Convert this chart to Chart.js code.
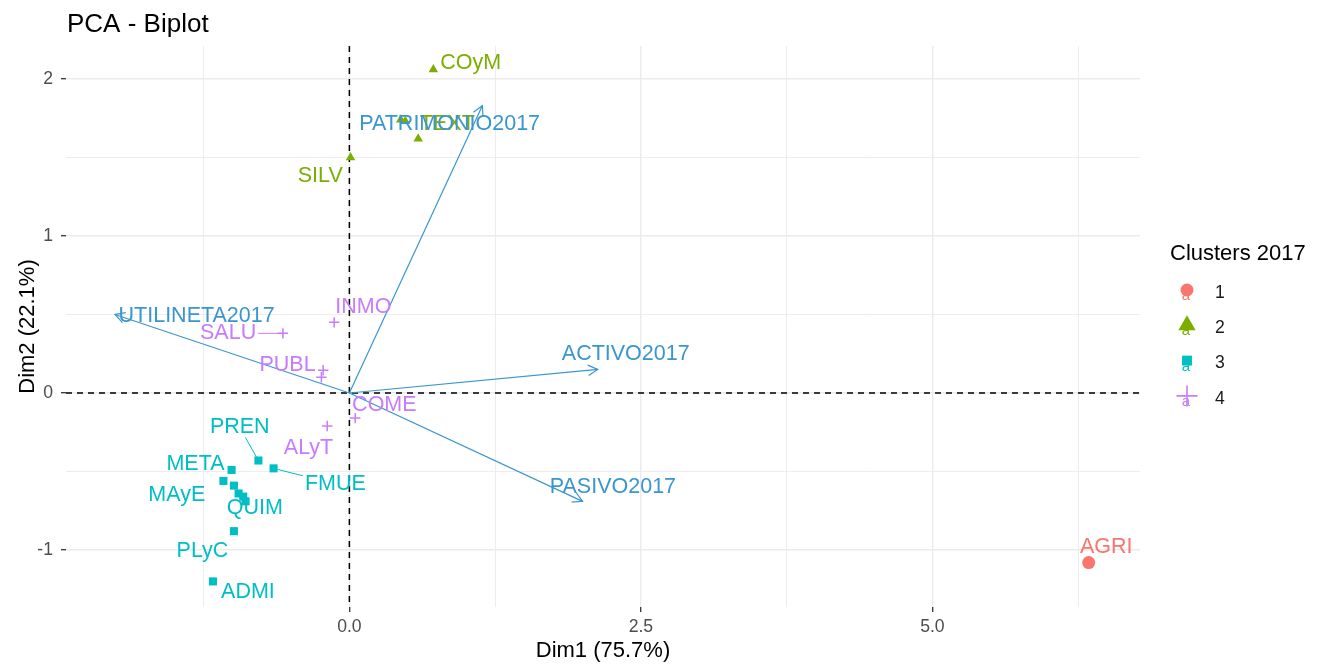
<!DOCTYPE html>
<html><head><meta charset="utf-8">
<script src="https://cdn.jsdelivr.net/npm/chart.js@4.4.1/dist/chart.umd.min.js"></script>
<style>html,body{margin:0;padding:0;background:#fff;}</style>
</head><body>
<canvas id="c" width="1318" height="665"></canvas>
<script>
const FONT = "'Liberation Sans', Arial, Helvetica, sans-serif";

// ---- clusters ----
const clusterNames = ['1','2','3','4'];
const clusterColors = ['#F8766D','#7CAE00','#00BFC4','#C77CFF'];
const clusterStyles = ['circle','triangle','rect','cross'];

// cluster 1
const c1Labels = ['AGRI'];
const c1X = [6.34];
const c1Y = [-1.08];
const c1LabelX = [6.49];
const c1LabelY = [-0.98];

// cluster 2
const c2Labels = ['COyM','','','TEXT','SILV'];
const c2X = [0.72, 0.44, 0.48, 0.59, 0.01];
const c2Y = [2.06, 1.74, 1.73, 1.62, 1.50];
const c2LabelX = [1.04, null, null, 0.84, -0.25];
const c2LabelY = [2.10, null, null, 1.71, 1.38];

// cluster 3
const c3Labels = ['PREN','FMUE','META','MAyE','','QUIM','','','PLyC','ADMI'];
const c3X = [-0.78, -0.65, -1.01, -1.08, -0.99, -0.95, -0.91, -0.89, -0.99, -1.17];
const c3Y = [-0.43, -0.48, -0.49, -0.56, -0.59, -0.64, -0.66, -0.69, -0.88, -1.20];
const c3LabelX = [-0.94, -0.12, -1.32, -1.48, null, -0.81, null, null, -1.26, -0.87];
const c3LabelY = [-0.22, -0.58, -0.45, -0.65, null, -0.73, null, null, -1.01, -1.27];

// cluster 4
const c4Labels = ['INMO','SALU','PUBL','','COME','ALyT'];
const c4X = [-0.13, -0.57, -0.225, -0.24, 0.05, -0.19];
const c4Y = [0.45, 0.38, 0.145, 0.10, -0.16, -0.21];
const c4LabelX = [0.12, -1.04, -0.53, null, 0.30, -0.35];
const c4LabelY = [0.55, 0.38, 0.18, null, -0.08, -0.35];

const segmentLabels = ['SALU','PREN','FMUE'];

// ---- variables (arrows) ----
const varNames = ['PATRIMONIO2017','UTILINETA2017','ACTIVO2017','PASIVO2017'];
const varX = [1.14, -2.01, 2.13, 2.00];
const varY = [1.83, 0.50, 0.15, -0.69];
const varLabelX = [0.86, -1.31, 2.37, 2.26];
const varLabelY = [1.71, 0.49, 0.25, -0.60];
const varColor = '#3A96CF';

// ---- axes ----
const xGrid = [-1.25, 0, 1.25, 2.5, 3.75, 5, 6.25];
const xTickValues = [0, 2.5, 5];
const xTickLabels = ['0.0', '2.5', '5.0'];
const yGrid = [-1, -0.5, 0, 0.5, 1, 1.5, 2];
const yTickValues = [-1, 0, 1, 2];
const yTickLabels = ['-1', '0', '1', '2'];
const xLimits = [-2.43, 6.78];
const yLimits = [-1.363, 2.21];

const chartTitle = 'PCA - Biplot';
const xTitle = 'Dim1 (75.7%)';
const yTitle = 'Dim2 (22.1%)';
const legendTitle = 'Clusters 2017';

const clusters = [
  {labels:c1Labels, x:c1X, y:c1Y, lx:c1LabelX, ly:c1LabelY},
  {labels:c2Labels, x:c2X, y:c2Y, lx:c2LabelX, ly:c2LabelY},
  {labels:c3Labels, x:c3X, y:c3Y, lx:c3LabelX, ly:c3LabelY},
  {labels:c4Labels, x:c4X, y:c4Y, lx:c4LabelX, ly:c4LabelY}
];
const pointRadii = [6.5, 5.5, 5.7, 5.2];

const datasets = [];
varNames.forEach((n, i) => {
  datasets.push({
    type: 'line', label: n, showLine: true, fill: false,
    data: [{x: 0, y: 0}, {x: varX[i], y: varY[i]}],
    borderColor: varColor, borderWidth: 1.2, pointRadius: 0
  });
});
clusters.forEach((c, k) => {
  datasets.push({
    type: 'scatter', label: clusterNames[k],
    data: c.x.map((v, i) => ({x: v, y: c.y[i]})),
    pointStyle: clusterStyles[k],
    pointRadius: pointRadii[k],
    backgroundColor: clusterColors[k],
    borderColor: clusterColors[k],
    borderWidth: k === 3 ? 1.5 : 0,
    pointBorderWidth: k === 3 ? 1.5 : 0
  });
});

function drawSymbol(ctx, style, x, y, r, color) {
  ctx.save();
  ctx.fillStyle = color; ctx.strokeStyle = color;
  ctx.beginPath();
  if (style === 'circle') { ctx.arc(x, y, r, 0, Math.PI * 2); ctx.fill(); }
  else if (style === 'triangle') {
    for (let j = 0; j < 3; j++) {
      const a = j * 2 * Math.PI / 3;
      const px = x + Math.sin(a) * r, py = y - Math.cos(a) * r;
      j ? ctx.lineTo(px, py) : ctx.moveTo(px, py);
    }
    ctx.closePath(); ctx.fill();
  } else if (style === 'rect') {
    const s = r * Math.SQRT1_2; ctx.rect(x - s, y - s, 2 * s, 2 * s); ctx.fill();
  } else if (style === 'cross') {
    ctx.lineWidth = 1.6;
    ctx.moveTo(x - r, y); ctx.lineTo(x + r, y); ctx.moveTo(x, y - r); ctx.lineTo(x, y + r); ctx.stroke();
  }
  ctx.restore();
}

const overlay = {
  id: 'overlay',
  beforeDatasetsDraw(chart) {
    const {ctx, chartArea: a, scales: {x, y}} = chart;
    ctx.save();
    ctx.strokeStyle = '#000'; ctx.lineWidth = 1.5; ctx.setLineDash([6, 5]);
    const px = x.getPixelForValue(0), py = y.getPixelForValue(0);
    ctx.beginPath();
    ctx.moveTo(px, a.top); ctx.lineTo(px, a.bottom);
    ctx.moveTo(a.left, py); ctx.lineTo(a.right, py);
    ctx.stroke();
    ctx.restore();
  },
  afterDatasetsDraw(chart) {
    const {ctx, scales: {x, y}} = chart;
    ctx.save();
    // arrowheads
    ctx.strokeStyle = varColor; ctx.lineWidth = 1.2;
    varNames.forEach((n, i) => {
      const x0 = x.getPixelForValue(0), y0 = y.getPixelForValue(0);
      const x1 = x.getPixelForValue(varX[i]), y1 = y.getPixelForValue(varY[i]);
      const ang = Math.atan2(y1 - y0, x1 - x0), L = 11, h = 0.5;
      ctx.beginPath();
      ctx.moveTo(x1 - L * Math.cos(ang - h), y1 - L * Math.sin(ang - h));
      ctx.lineTo(x1, y1);
      ctx.lineTo(x1 - L * Math.cos(ang + h), y1 - L * Math.sin(ang + h));
      ctx.stroke();
    });
    // labels
    ctx.font = '21.5px ' + FONT;
    ctx.textAlign = 'center'; ctx.textBaseline = 'middle';
    clusters.forEach((c, k) => {
      c.labels.forEach((lab, i) => {
        if (!lab || c.lx[i] === null) return;
        const lx = x.getPixelForValue(c.lx[i]), ly = y.getPixelForValue(c.ly[i]);
        const ptx = x.getPixelForValue(c.x[i]), pty = y.getPixelForValue(c.y[i]);
        ctx.fillStyle = clusterColors[k]; ctx.strokeStyle = clusterColors[k];
        if (segmentLabels.includes(lab)) {
          const w = ctx.measureText(lab).width / 2 + 2, hh = 10;
          const dx = ptx - lx, dy = pty - ly;
          const t = Math.min(Math.abs(w / (dx || 1e-9)), Math.abs(hh / (dy || 1e-9)));
          const d = Math.hypot(dx, dy);
          ctx.lineWidth = 1;
          ctx.beginPath();
          ctx.moveTo(lx + dx * t, ly + dy * t);
          ctx.lineTo(ptx - dx / d * 4, pty - dy / d * 4);
          ctx.stroke();
        }
        ctx.fillText(lab, lx, ly);
      });
    });
    ctx.fillStyle = varColor;
    varNames.forEach((n, i) => {
      ctx.fillText(n, x.getPixelForValue(varLabelX[i]), y.getPixelForValue(varLabelY[i]));
    });
    ctx.restore();
  },
  afterDraw(chart) {
    const {ctx} = chart;
    ctx.save();
    ctx.fillStyle = '#000';
    ctx.font = '26px ' + FONT;
    ctx.textAlign = 'left'; ctx.textBaseline = 'alphabetic';
    ctx.fillText(chartTitle, 67, 32);
    // legend
    ctx.font = '22px ' + FONT;
    ctx.textBaseline = 'middle';
    ctx.fillText(legendTitle, 1170, 254);
    const legR = [6.5, 10, 7, 10.5];
    clusterNames.forEach((n, k) => {
      const cy = 292 + k * 35.3;
      ctx.save();
      ctx.fillStyle = clusterColors[k];
      ctx.font = '15px ' + FONT; ctx.textAlign = 'center';
      ctx.fillText('a', 1186, cy + 4);
      ctx.restore();
      drawSymbol(ctx, clusterStyles[k], 1187, cy - 2, legR[k], clusterColors[k]);
      ctx.fillStyle = '#1A1A1A';
      ctx.font = '17.6px ' + FONT; ctx.textAlign = 'left';
      ctx.fillText(n, 1215, cy + 1);
    });
    ctx.restore();
  }
};

const gridOpts = (majors) => ({
  color: '#EBEBEB',
  lineWidth: (c) => (c.tick && majors.includes(c.tick.value)) ? 1.4 : 0.9,
  drawTicks: true,
  tickLength: 5,
  tickColor: (c) => (c.tick && majors.includes(c.tick.value)) ? '#333333' : 'rgba(0,0,0,0)',
  tickWidth: 1.3
});

new Chart(document.getElementById('c'), {
  type: 'scatter',
  data: {datasets},
  options: {
    responsive: false, animation: false,
    layout: {padding: {left: 0, right: 178, top: 46, bottom: 0}},
    plugins: {legend: {display: false}, tooltip: {enabled: false}, title: {display: false}},
    scales: {
      x: {
        type: 'linear', min: xLimits[0], max: xLimits[1],
        afterBuildTicks: (s) => { s.ticks = xGrid.map(v => ({value: v})); },
        afterFit: (s) => { s.height = 58; },
        border: {display: false},
        grid: gridOpts(xTickValues),
        ticks: {
          autoSkip: false, maxRotation: 0, padding: 5,
          color: '#4D4D4D', font: {family: FONT, size: 17.6},
          callback: (v) => { const i = xTickValues.indexOf(v); return i >= 0 ? xTickLabels[i] : ''; }
        },
        title: {display: true, text: xTitle, color: '#000', font: {family: FONT, size: 22}, padding: {top: 0, bottom: 1}}
      },
      y: {
        type: 'linear', min: yLimits[0], max: yLimits[1],
        afterBuildTicks: (s) => { s.ticks = yGrid.map(v => ({value: v})); },
        afterFit: (s) => { s.width = 66; },
        border: {display: false},
        grid: gridOpts(yTickValues),
        ticks: {
          autoSkip: false, padding: 8,
          color: '#4D4D4D', font: {family: FONT, size: 17.6},
          callback: (v) => { const i = yTickValues.indexOf(v); return i >= 0 ? yTickLabels[i] : ''; }
        },
        title: {display: true, text: yTitle, color: '#000', font: {family: FONT, size: 22}, padding: {top: 15, bottom: 0}}
      }
    }
  },
  plugins: [overlay]
});
</script>
</body></html>
